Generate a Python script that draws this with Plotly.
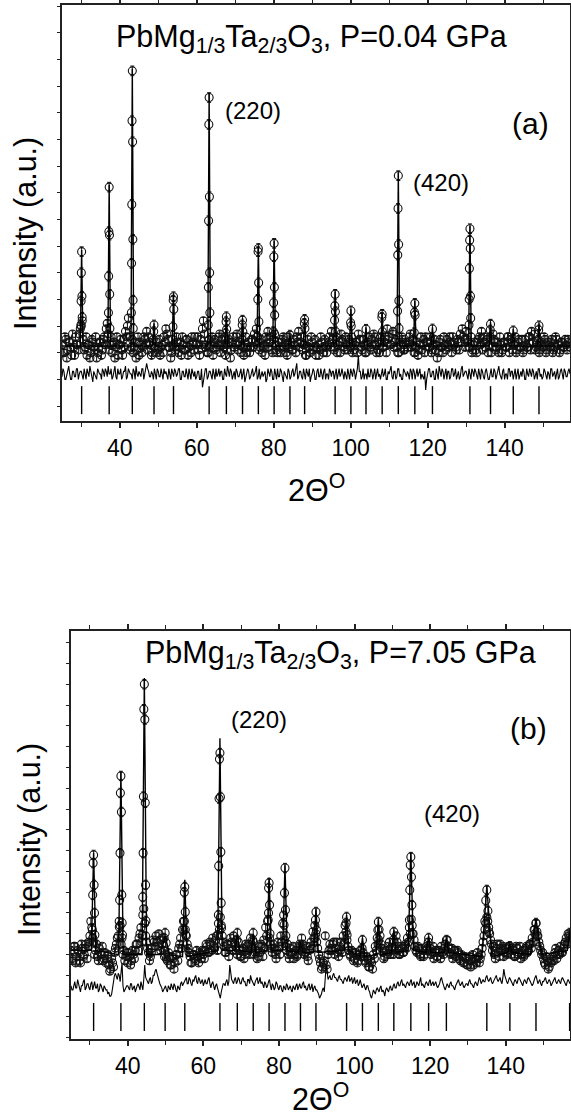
import plotly.graph_objects as go

W, H = 571, 1115
FONT = "Liberation Sans"

# observed background points: readings on 25.0, 25.5, ... (main) and 25.25, 25.75, ... (mid)
GRID_START = 25.0
GRID_STEP = 0.5

# ================= panel (a)  P = 0.04 GPa =================
obs_bg_a = [
    2.3, 2.0, 2.5, 2.1, 2.4, 1.9, 2.2, 2.6, 2.3, 2.7,
    3.0, 2.5, 2.2, 1.9, 2.3, 2.0, 2.4, 2.1, 1.8, 2.2,
    2.4, 2.1, 2.6, 2.9, 2.7, 2.3, 2.0, 2.4, 2.2, 1.9,
    2.3, 2.1, 2.5, 2.8, 3.0, 2.6, 2.2, 2.0, 2.4, 2.1,
    1.9, 2.3, 2.2, 2.5, 2.8, 2.6, 2.3, 2.0, 2.2, 2.4,
    2.1, 1.9, 2.3, 2.6, 2.9, 2.5, 2.2, 2.0, 2.3, 2.1,
    2.4, 2.2, 1.9, 2.3, 2.1, 2.5, 2.2, 2.0, 2.4, 2.6,
    2.3, 2.1, 2.5, 2.9, 2.7, 2.3, 2.0, 2.2, 2.6, 2.4,
    2.1, 2.3, 2.7, 2.5, 2.2, 1.9, 2.3, 2.4, 2.1, 2.6,
    2.3, 2.7, 2.4, 2.0, 2.2, 2.3, 2.0, 2.4, 2.2, 2.5,
    2.7, 2.9, 2.4, 2.2, 2.0, 2.3, 2.6, 2.8, 2.4, 2.1,
    2.5, 2.3, 2.0, 2.2, 2.4, 2.6, 2.3, 1.9, 2.2, 2.4,
    2.1, 2.3, 2.6, 2.8, 2.4, 2.1, 2.3, 1.9, 2.2, 2.0,
    2.4, 2.2, 1.9, 2.3, 2.1, 2.4, 2.0, 2.2, 2.3, 2.6,
    2.8, 2.5, 2.2, 2.0, 2.4, 2.7, 2.4, 2.1, 2.3, 2.5,
    2.2, 2.0, 2.3, 2.4, 2.7, 2.5, 2.1, 2.3, 2.0, 2.4,
    2.2, 2.5, 2.7, 2.3, 2.1, 2.0, 2.4, 2.2, 2.6, 2.9,
    2.6, 2.3, 2.8, 2.4, 2.2, 2.0, 2.3, 2.5, 2.1, 2.3,
    2.4, 2.7, 2.3, 2.0, 2.2, 1.9, 2.3, 2.1, 2.5, 2.6,
    2.4, 2.2, 2.0, 2.3, 2.1, 1.8, 2.4, 2.2, 2.0, 2.3,
    2.5, 2.2, 2.4, 2.6, 2.3, 2.1, 2.4, 2.7, 2.9, 2.5,
    2.8, 2.4, 2.2, 2.0, 2.3, 2.1, 2.4, 2.6, 2.8, 2.4,
    2.2, 2.5, 2.3, 2.0, 2.7, 2.4, 2.2, 2.0, 2.3, 2.1,
    2.4, 2.2, 2.6, 2.5, 2.1, 2.3, 2.0, 2.4, 2.2, 2.5,
    2.1, 2.3, 2.2, 2.6, 2.8, 2.4, 2.1, 2.3, 2.0, 2.4,
    2.2, 2.5, 2.1, 2.3, 2.4, 2.0, 2.2, 2.5, 2.3, 2.1,
    2.4, 2.2, 2.3, 2.5, 2.2,
]
obs_mid_a = [
    2.0, 2.6, 1.8, 2.4, 2.2, 2.7, 1.9, 2.3, 2.1, 2.9,
    3.2, 2.1, 2.6, 2.3, 1.8, 2.5, 2.2, 2.6, 2.0, 2.4,
    1.9, 2.5, 2.3, 3.1, 2.1, 2.6, 2.3, 1.8, 2.6, 2.3,
    2.5, 1.9, 2.2, 2.6, 3.3, 2.1, 2.5, 2.2, 1.8, 2.6,
    2.4, 2.0, 2.6, 2.3, 2.1, 2.4, 1.9, 2.5, 2.2, 2.0,
    2.5, 2.2, 2.0, 2.4, 2.7, 2.2, 1.8, 2.5, 2.2, 2.6,
    2.0, 2.4, 2.6, 2.1, 2.5, 1.9, 2.3, 2.6, 2.1, 2.3,
    2.6, 1.9, 2.3, 3.2, 2.2, 2.0, 2.5, 2.3, 1.9, 2.5,
    2.2, 2.6, 2.0, 2.3, 2.6, 2.1, 2.5, 1.8, 2.4, 2.2,
    2.6, 2.1, 2.3, 2.5, 1.9, 2.6, 2.2, 2.0, 2.5, 2.2,
    2.4, 2.6, 2.1, 2.5, 2.2, 1.9, 2.5, 2.2, 2.6, 2.0,
    2.7, 2.1, 2.4, 2.0, 2.5, 2.2, 2.0, 2.6, 2.3, 2.1,
    2.5, 2.0, 2.4, 2.2, 2.6, 2.3, 1.9, 2.5, 2.2, 2.6,
    2.1, 2.5, 2.2, 1.9, 2.6, 2.2, 2.5, 2.0, 2.4, 2.2,
    2.5, 2.1, 2.6, 2.3, 2.0, 2.5, 2.2, 2.6, 2.1, 2.4,
    2.6, 2.1, 2.4, 2.0, 2.5, 2.2, 2.5, 2.0, 2.3, 2.6,
    2.1, 2.3, 2.6, 2.0, 2.4, 2.6, 2.2, 2.4, 2.0, 2.5,
    2.3, 2.7, 2.2, 2.5, 2.0, 2.4, 2.6, 2.1, 2.4, 2.2,
    2.6, 2.2, 2.5, 2.0, 2.4, 2.1, 2.6, 2.3, 2.0, 2.4,
    2.2, 2.6, 2.1, 2.5, 2.3, 2.0, 2.5, 2.2, 2.6, 2.1,
    2.3, 2.6, 2.0, 2.4, 2.2, 2.5, 2.1, 2.4, 2.6, 2.2,
    2.5, 2.2, 2.6, 2.1, 2.4, 2.0, 2.5, 2.3, 2.1, 2.6,
    2.4, 2.0, 2.6, 2.2, 2.5, 2.1, 2.4, 2.6, 2.0, 2.4,
    2.2, 2.6, 2.0, 2.4, 2.3, 2.6, 2.1, 2.5, 2.2, 2.0,
    2.5, 2.2, 2.6, 2.1, 2.4, 2.7, 2.2, 2.5, 2.1, 2.3,
    2.6, 2.0, 2.4, 2.2, 2.5, 2.1, 2.6, 2.3, 2.0, 2.4,
    2.2, 2.5, 2.1, 2.4,
]
diff_a = [
    1.1, 1.3, 1.0, 1.4, 1.2, 1.0, 1.3, 1.1, 1.4, 1.2,
    1.3, 1.0, 1.2, 1.4, 1.1, 1.3, 0.9, 1.2, 1.0, 1.3,
    1.2, 1.4, 1.1, 1.3, 1.5, 1.2, 1.0, 1.3, 1.1, 1.4,
    1.2, 1.0, 1.3, 1.5, 1.1, 1.3, 1.2, 1.4, 1.0, 1.2,
    1.3, 1.1, 1.4, 1.2, 1.6, 1.3, 1.1, 1.2, 1.4, 1.0,
    1.3, 1.1, 1.2, 1.4, 1.3, 1.0, 1.2, 1.4, 1.1, 1.3,
    1.2, 1.4, 1.0, 1.3, 1.1, 1.2, 1.4, 1.0, 1.2, 1.3,
    1.1, 1.3, 1.0, 0.7, 1.2, 1.4, 1.1, 1.3, 1.0, 1.2,
    1.4, 1.2, 1.1, 1.3, 1.0, 1.2, 1.5, 1.1, 1.3, 1.2,
    1.0, 1.3, 1.1, 1.4, 1.2, 0.9, 1.2, 1.3, 1.1, 1.4,
    1.2, 1.5, 1.1, 1.0, 1.3, 1.2, 0.9, 1.4, 1.1, 1.3,
    1.0, 1.2, 1.4, 1.1, 1.3, 0.9, 1.2, 1.0, 1.3, 1.1,
    1.4, 1.2, 1.6, 1.1, 1.3, 1.0, 1.2, 1.4, 1.1, 0.9,
    1.2, 1.3, 1.0, 1.4, 1.1, 1.2, 1.3, 1.0, 1.2, 1.4,
    1.1, 1.3, 1.2, 1.0, 1.4, 1.2, 1.1, 1.3, 1.0, 1.2,
    1.4, 1.1, 1.3, 1.2, 1.9, 1.3, 1.1, 1.0, 1.2, 1.4,
    1.1, 1.3, 1.2, 1.0, 1.4, 1.2, 1.3, 1.1, 1.4, 1.0,
    1.2, 1.5, 1.0, 1.3, 1.1, 1.4, 1.2, 1.0, 1.3, 1.1,
    1.2, 1.4, 1.0, 1.3, 1.2, 1.1, 1.4, 1.2, 1.0, 0.6,
    1.2, 1.4, 1.1, 1.3, 1.0, 1.2, 1.5, 1.1, 1.3, 1.2,
    1.0, 1.3, 1.1, 1.4, 1.2, 1.0, 1.3, 1.1, 1.5, 1.2,
    1.3, 1.0, 1.2, 1.4, 1.1, 1.3, 1.0, 1.2, 1.4, 1.1,
    1.3, 1.2, 1.0, 1.4, 1.1, 1.3, 1.2, 1.5, 1.1, 1.3,
    1.0, 1.2, 1.4, 1.1, 1.3, 1.2, 1.0, 1.4, 1.2, 1.1,
    1.3, 1.0, 1.2, 1.4, 1.1, 1.3, 1.2, 1.0, 1.4, 1.2,
    1.1, 1.3, 1.0, 1.2, 1.4, 1.1, 1.3, 1.2, 1.0, 1.3,
    1.2, 1.4, 1.1, 1.3, 1.2,
]
diff_mid_a = [
    1.4, 1.0, 1.2, 1.5, 1.0, 1.3, 1.1, 1.4, 1.0, 1.3,
    1.1, 1.4, 1.0, 1.2, 1.5, 1.0, 1.3, 1.1, 1.4, 1.2,
    1.0, 1.3, 1.4, 1.1, 1.2, 1.4, 1.1, 1.5, 1.0, 1.2,
    1.4, 1.1, 1.3, 1.0, 1.4, 1.2, 1.0, 1.3, 1.5, 1.1,
    1.2, 1.4, 1.0, 1.3, 1.4, 1.1, 1.3, 1.0, 1.2, 1.4,
    1.1, 1.4, 1.0, 1.2, 1.1, 1.4, 1.0, 1.2, 1.4, 1.1,
    1.4, 1.0, 1.3, 1.1, 1.4, 1.0, 1.2, 1.4, 1.1, 1.0,
    1.3, 1.0, 1.4, 1.0, 1.4, 1.0, 1.3, 1.1, 1.4, 1.0,
    1.1, 1.4, 1.3, 1.0, 1.4, 1.1, 1.2, 1.4, 1.0, 1.3,
    1.4, 1.1, 1.3, 1.0, 1.4, 1.1, 1.4, 1.0, 1.3, 1.1,
    1.3, 1.0, 1.4, 1.2, 1.1, 1.3, 1.0, 1.2, 1.4, 1.0,
    1.4, 1.0, 1.1, 1.4, 1.0, 1.3, 1.1, 1.4, 1.0, 1.3,
    1.1, 1.4, 1.0, 1.3, 1.1, 1.4, 1.0, 1.2, 1.4, 1.1,
    1.4, 1.0, 1.3, 1.1, 1.4, 1.0, 1.4, 1.2, 1.0, 1.3,
    1.3, 1.0, 1.4, 1.2, 1.1, 1.4, 1.0, 1.1, 1.4, 1.0,
    1.2, 1.4, 1.0, 1.4, 1.3, 1.0, 1.4, 1.2, 1.0, 1.1,
    1.4, 1.0, 1.4, 1.3, 1.1, 1.0, 1.4, 1.2, 1.0, 1.3,
    1.4, 1.1, 1.3, 1.0, 1.4, 1.1, 1.0, 1.4, 1.2, 1.3,
    1.0, 1.3, 1.4, 1.0, 1.4, 1.3, 1.0, 1.1, 1.3, 1.0,
    1.4, 1.1, 1.3, 1.0, 1.4, 1.0, 1.3, 1.4, 1.0, 1.4,
    1.3, 1.0, 1.4, 1.1, 1.4, 1.2, 1.0, 1.4, 1.1, 1.3,
    1.1, 1.4, 1.0, 1.3, 1.4, 1.1, 1.4, 1.0, 1.3, 1.0,
    1.4, 1.0, 1.3, 1.1, 1.4, 1.0, 1.4, 1.2, 1.0, 1.4,
    1.2, 1.0, 1.4, 1.3, 1.0, 1.4, 1.2, 1.0, 1.3, 1.4,
    1.0, 1.4, 1.1, 1.2, 1.4, 1.0, 1.3, 1.4, 1.1, 1.0,
    1.4, 1.1, 1.3, 1.0, 1.4, 1.2, 1.0, 1.4, 1.1, 1.4,
    1.0, 1.3, 1.1, 1.4,
]
bragg_a = [30.10, 37.26, 43.27, 48.91, 53.97, 63.23, 67.71, 71.91, 76.02, 80.12,
           84.23, 88.04, 95.97, 100.07, 103.99, 108.19, 112.39, 116.68, 121.26,
           131.00, 136.35, 142.26, 148.94]
peak_apex_a = [5.85, 8.3, 12.65, 3.1, 4.2, 11.75, 3.4, 3.3, 6.0, 6.2,
               2.7, 3.3, 4.3, 3.65, 2.95, 3.5, 8.75, 3.95, 2.95,
               6.75, 3.15, 2.9, 3.1]
peak_base_a = [2.25] * 23
peak_hw_a = [0.35] * 23
peak_obs_a = [
    [5.79, 5.0, 4.12, 3.94, 3.33, 3.04],
    [8.21, 6.54, 6.41, 4.87, 4.19, 3.5, 2.91],
    [12.57, 10.7, 9.91, 7.56, 6.25, 5.35, 3.97, 3.5, 2.91],
    [3.04, 2.79],
    [4.1, 3.97, 3.63, 2.97],
    [11.57, 10.56, 7.85, 6.95, 5.0, 4.45, 3.5, 3.04],
    [3.35, 3.16, 2.88, 2.73],
    [3.22, 3.04, 2.79],
    [5.91, 5.79, 4.62, 4.0, 3.16, 2.6],
    [6.1, 5.6, 4.45, 3.87, 3.41, 2.79],
    [2.66],
    [3.25, 3.1, 2.91],
    [4.19, 3.75, 3.54, 3.22, 2.79],
    [3.57, 3.12, 3.0],
    [2.88],
    [3.44, 3.33, 2.79],
    [8.64, 7.41, 6.06, 5.66, 3.95, 3.56, 2.91],
    [3.85, 3.51, 3.41, 2.75],
    [2.89],
    [6.65, 6.22, 5.91, 5.16, 4.12, 4.0, 3.29, 3.04],
    [3.07, 2.85],
    [2.82],
    [3.01, 2.85],
]
bragg_level_a = 0.22

# ================= panel (b)  P = 7.05 GPa =================
obs_bg_b = [
    3.2, 2.7, 3.4, 2.9, 3.1, 2.6, 3.3, 3.0, 3.5, 3.4,
    3.9, 4.3, 3.6, 3.2, 2.9, 3.3, 3.0, 2.7, 3.1, 2.8,
    2.5, 2.3, 2.6, 3.1, 3.5, 3.9, 4.4, 3.8, 3.2, 2.9,
    2.6, 2.9, 2.7, 3.0, 3.2, 3.5, 3.8, 4.3, 4.9, 4.5,
    3.6, 3.1, 2.9, 3.3, 3.6, 3.9, 3.4, 3.7, 3.5, 3.2,
    3.0, 2.7, 2.9, 2.5, 2.8, 2.6, 3.0, 3.3, 3.8, 4.2,
    4.6, 3.9, 3.3, 2.9, 2.6, 3.0, 2.7, 2.9, 3.1, 2.8,
    3.0, 3.2, 3.4, 3.1, 3.5, 3.8, 3.3, 3.9, 4.5, 4.8,
    3.9, 3.4, 3.1, 3.5, 3.3, 3.6, 3.9, 3.4, 3.0, 3.2,
    2.9, 3.3, 3.0, 3.4, 3.5, 3.8, 3.3, 3.0, 3.2, 2.9,
    3.1, 3.4, 3.7, 4.3, 4.6, 3.8, 3.3, 3.5, 3.0, 3.2,
    3.4, 3.9, 4.5, 3.7, 3.2, 3.0, 3.3, 3.1, 2.8, 3.2,
    3.0, 3.5, 3.8, 3.3, 3.1, 2.9, 3.2, 3.6, 4.1, 4.4,
    3.6, 3.0, 2.6, 2.4, 2.7, 2.5, 3.0, 3.5, 3.2, 3.6,
    3.3, 3.1, 3.4, 3.6, 3.9, 4.4, 3.7, 3.2, 2.9, 3.1,
    2.8, 3.0, 2.7, 3.2, 3.3, 2.9, 2.6, 2.8, 2.4, 2.6,
    3.0, 3.4, 3.8, 4.2, 3.5, 3.1, 2.9, 3.2, 3.4, 3.0,
    3.3, 3.6, 3.9, 3.2, 3.0, 3.3, 3.1, 3.5, 3.8, 4.3,
    4.7, 4.0, 3.4, 3.1, 3.3, 2.9, 3.2, 3.0, 3.4, 3.6,
    3.3, 3.1, 2.8, 3.2, 2.9, 3.1, 3.4, 3.0, 3.5, 3.7,
    3.3, 3.0, 2.8, 3.2, 2.9, 3.1, 2.7, 2.9, 2.6, 2.8,
    2.5, 2.9, 2.7, 2.5, 2.8, 3.1, 2.6, 3.0, 3.6, 4.2,
    4.8, 4.3, 3.7, 3.2, 3.0, 3.3, 3.1, 3.5, 3.2, 2.9,
    3.3, 3.1, 3.4, 3.0, 3.2, 2.9, 3.3, 3.1, 2.8, 3.2,
    3.0, 3.4, 3.2, 3.5, 3.8, 4.2, 4.5, 3.9, 3.4, 3.0,
    2.8, 2.5, 2.7, 2.4, 2.6, 2.9, 3.1, 2.8, 3.2, 3.4,
    3.1, 3.5, 3.8, 4.0, 3.6,
]
obs_mid_b = [
    2.8, 3.4, 2.6, 3.2, 2.7, 3.5, 2.9, 3.3, 2.8, 3.6,
    4.6, 3.8, 3.0, 3.5, 2.7, 3.1, 3.4, 2.8, 2.6, 3.0,
    2.2, 2.8, 2.4, 3.3, 3.8, 4.6, 3.5, 3.0, 2.7, 3.1,
    3.1, 2.5, 3.2, 2.8, 3.5, 3.2, 4.0, 3.6, 5.2, 3.9,
    3.3, 2.7, 3.1, 3.7, 3.4, 3.6, 4.0, 3.2, 3.8, 2.9,
    2.8, 3.1, 2.5, 2.9, 2.3, 3.0, 2.7, 3.5, 3.3, 4.6,
    4.2, 3.5, 3.1, 2.6, 3.0, 2.8, 3.2, 2.6, 3.0, 3.2,
    2.8, 3.5, 3.1, 3.6, 3.2, 3.4, 3.7, 3.2, 4.2, 4.4,
    3.6, 3.1, 3.5, 2.9, 3.8, 3.2, 3.5, 3.2, 3.6, 2.9,
    3.2, 2.8, 3.5, 3.2, 3.0, 3.4, 3.6, 3.1, 2.8, 3.4,
    3.5, 2.9, 3.3, 3.9, 5.0, 3.5, 3.1, 3.3, 2.8, 3.6,
    3.0, 3.6, 4.9, 3.4, 3.5, 2.8, 3.0, 3.4, 3.0, 2.9,
    3.4, 3.2, 3.5, 3.0, 3.4, 2.7, 3.4, 3.3, 3.8, 4.0,
    3.3, 2.8, 2.3, 2.6, 3.9, 2.3, 3.2, 3.3, 3.5, 3.0,
    3.6, 2.9, 3.2, 3.1, 3.5, 4.1, 3.4, 3.0, 3.2, 2.7,
    3.1, 2.6, 3.0, 2.9, 3.1, 2.7, 2.9, 2.4, 2.7, 2.3,
    2.8, 3.2, 3.5, 3.9, 3.3, 2.8, 3.2, 3.0, 3.6, 3.2,
    3.0, 3.4, 3.6, 3.0, 3.4, 3.1, 3.4, 3.3, 3.6, 4.0,
    4.4, 3.7, 3.2, 3.4, 3.0, 3.3, 2.9, 3.2, 3.3, 3.2,
    3.0, 3.4, 3.1, 2.9, 3.2, 2.8, 3.1, 3.3, 3.2, 3.4,
    3.1, 3.3, 3.0, 2.9, 3.2, 2.8, 3.0, 2.6, 2.9, 2.5,
    2.7, 2.4, 3.0, 2.8, 2.6, 2.9, 2.8, 3.3, 3.9, 4.5,
    4.6, 4.0, 3.5, 3.4, 2.8, 3.5, 2.9, 3.3, 3.4, 3.1,
    3.0, 3.4, 3.2, 3.3, 2.9, 3.4, 3.0, 3.4, 3.0, 2.9,
    3.3, 3.1, 3.5, 3.3, 3.6, 4.0, 4.1, 3.6, 3.2, 3.1,
    2.6, 2.9, 2.3, 2.8, 2.7, 2.7, 3.3, 3.0, 3.0, 3.1,
    3.3, 3.6, 3.5, 3.9,
]
diff_b = [
    1.5, 1.3, 1.7, 1.4, 1.6, 1.2, 1.5, 1.8, 1.4, 1.6,
    1.3, 1.7, 1.5, 1.4, 1.6, 1.3, 1.5, 1.2, 1.4, 1.3,
    1.2, 1.0, 1.4, 2.0, 1.9, 2.1, 1.7, 2.6, 1.2, 1.4,
    1.5, 1.3, 1.6, 1.4, 1.2, 1.5, 1.4, 1.7, 1.3, 2.5,
    1.8, 1.6, 1.9, 1.7, 2.0, 2.3, 1.9, 1.6, 1.4, 1.3,
    1.5, 1.2, 1.4, 1.6, 1.3, 1.5, 1.2, 1.4, 1.6, 1.5,
    1.7, 1.9, 1.6, 1.8, 1.5, 1.7, 2.0, 1.6, 1.8, 1.7,
    1.5, 1.8, 1.6, 1.9, 1.4, 1.7, 1.3, 1.6, 1.2, 0.9,
    1.4, 1.6, 1.7, 1.5, 2.5, 1.8, 1.6, 1.9, 1.7, 1.8,
    1.6, 1.9, 1.7, 1.5, 1.8, 2.0, 1.7, 1.5, 1.8, 1.6,
    1.9, 1.7, 1.4, 1.6, 1.5, 1.8, 1.3, 1.5, 1.4, 1.6,
    1.3, 1.5, 1.2, 1.4, 1.6, 1.3, 1.5, 1.2, 1.4, 1.5,
    1.3, 1.6, 1.4, 1.7, 1.5, 1.3, 1.6, 1.4, 1.2, 1.5,
    1.3, 1.1, 1.0, 1.3, 1.2, 2.5, 1.8, 2.0, 1.8, 2.1,
    1.9, 1.7, 2.0, 1.8, 1.6, 1.9, 1.7, 2.0, 1.8, 1.6,
    1.9, 1.7, 1.5, 1.8, 1.4, 1.6, 1.3, 1.5, 1.2, 0.9,
    1.3, 1.1, 1.4, 1.2, 1.5, 1.3, 1.0, 1.4, 1.2, 1.5,
    1.3, 1.6, 1.4, 1.7, 1.5, 1.8, 1.6, 1.4, 1.7, 1.5,
    1.8, 1.6, 1.4, 1.7, 1.5, 1.9, 1.6, 1.4, 1.7, 1.5,
    1.8, 1.6, 1.5, 1.7, 1.4, 1.6, 1.9, 1.5, 1.3, 1.6,
    1.4, 1.7, 1.5, 1.3, 1.6, 1.8, 1.5, 1.7, 1.4, 1.6,
    1.5, 1.8, 1.6, 1.4, 1.7, 1.5, 1.9, 1.6, 1.8, 1.7,
    2.0, 1.7, 1.9, 1.6, 1.8, 2.0, 1.7, 1.9, 1.6, 2.3,
    1.8, 1.6, 1.9, 1.7, 1.5, 1.8, 1.6, 1.9, 1.7, 1.5,
    1.8, 1.6, 1.9, 1.7, 1.5, 1.8, 2.0, 1.6, 1.8, 1.5,
    1.7, 1.9, 1.6, 1.8, 1.5, 1.7, 1.9, 1.6, 1.8, 1.6,
    1.9, 1.7, 1.5, 1.8, 1.6,
]
diff_mid_b = [
    1.3, 1.6, 1.4, 1.8, 1.3, 1.5, 1.7, 1.3, 1.6, 1.4,
    1.6, 1.3, 1.7, 1.4, 1.2, 1.6, 1.3, 1.5, 1.3, 1.1,
    1.0, 1.1, 1.8, 2.1, 1.8, 2.0, 2.2, 1.5, 1.3, 1.5,
    1.4, 1.6, 1.3, 1.5, 1.4, 1.6, 1.3, 1.5, 1.8, 1.9,
    1.7, 1.8, 1.6, 2.0, 2.2, 2.1, 1.7, 1.5, 1.2, 1.4,
    1.3, 1.5, 1.3, 1.4, 1.6, 1.3, 1.5, 1.3, 1.7, 1.6,
    1.8, 1.6, 1.9, 1.6, 1.8, 1.9, 1.7, 1.9, 1.6, 1.8,
    1.7, 1.6, 1.8, 1.6, 1.6, 1.5, 1.5, 1.4, 1.1, 1.2,
    1.6, 1.5, 1.8, 1.7, 2.0, 1.7, 1.8, 1.6, 1.9, 1.6,
    1.8, 1.7, 1.5, 1.8, 1.6, 1.8, 1.6, 1.7, 1.9, 1.7,
    1.6, 1.5, 1.7, 1.4, 1.7, 1.5, 1.6, 1.3, 1.7, 1.4,
    1.5, 1.3, 1.5, 1.3, 1.5, 1.4, 1.3, 1.5, 1.3, 1.6,
    1.5, 1.4, 1.6, 1.4, 1.3, 1.5, 1.3, 1.6, 1.4, 1.3,
    1.2, 0.9, 1.1, 1.4, 1.9, 2.2, 1.9, 1.8, 2.0, 1.9,
    1.8, 1.9, 1.8, 1.7, 1.8, 1.8, 1.9, 1.7, 1.9, 1.8,
    1.6, 1.8, 1.6, 1.6, 1.5, 1.4, 1.5, 1.3, 1.0, 1.1,
    1.2, 1.3, 1.3, 1.4, 1.2, 1.2, 1.3, 1.3, 1.4, 1.3,
    1.5, 1.4, 1.6, 1.5, 1.7, 1.5, 1.5, 1.6, 1.6, 1.7,
    1.5, 1.7, 1.5, 1.6, 1.7, 1.5, 1.5, 1.6, 1.6, 1.7,
    1.5, 1.7, 1.6, 1.5, 1.5, 1.8, 1.7, 1.4, 1.5, 1.5,
    1.6, 1.5, 1.4, 1.5, 1.7, 1.6, 1.6, 1.5, 1.5, 1.6,
    1.7, 1.6, 1.5, 1.6, 1.6, 1.7, 1.8, 1.7, 1.7, 1.9,
    1.8, 1.8, 1.7, 1.7, 1.9, 1.8, 1.8, 1.7, 1.9, 2.0,
    1.7, 1.8, 1.8, 1.6, 1.7, 1.7, 1.8, 1.8, 1.6, 1.7,
    1.7, 1.8, 1.8, 1.6, 1.6, 1.9, 1.8, 1.7, 1.6, 1.7,
    1.8, 1.7, 1.7, 1.7, 1.6, 1.8, 1.7, 1.7, 1.7, 1.8,
    1.8, 1.6, 1.7, 1.7,
]
bragg_b = [30.98, 38.2, 44.4, 49.9, 55.1, 64.4, 69.0, 73.2, 77.4, 81.6,
           85.7, 89.8, 97.9, 102.1, 106.3, 110.4, 114.9, 119.6, 124.3,
           135.0, 141.1, 148.0, 156.9]
peak_apex_b = [7.9, 11.8, 16.3, 3.9, 6.6, 13.4, 4.0, 4.0, 6.7, 7.3,
               3.6, 5.2, 4.9, 3.8, 4.7, 4.2, 7.9, 3.9, 3.8,
               6.3, 3.5, 4.7, 4.1]
peak_base_b = [3.2, 3.0, 3.0, 3.0, 2.9, 3.2, 3.2, 3.1, 3.2, 3.2,
               3.1, 3.1, 3.2, 2.9, 3.0, 3.1, 3.2, 3.1, 3.1,
               2.9, 3.1, 3.0, 3.2]
peak_hw_b = [0.6, 0.6, 0.6, 1.2, 0.6, 0.6, 0.6, 0.6, 0.6, 0.6,
             0.6, 0.6, 0.6, 0.6, 0.6, 0.6, 0.7, 0.6, 0.6,
             1.3, 0.6, 1.5, 0.6]
peak_obs_b = [
    [7.79, 7.4, 6.35, 5.87, 5.0, 4.18, 3.94],
    [11.59, 10.77, 9.86, 7.88, 5.87, 5.63, 4.52, 4.33, 3.94],
    [16.0, 14.8, 14.3, 10.6, 10.3, 7.88, 6.35, 5.77, 4.62, 3.94],
    [4.04, 3.8, 3.56],
    [6.25, 6.0, 5.05, 4.18, 3.94],
    [12.69, 12.4, 10.58, 10.5, 7.93, 7.26, 5.48, 4.9, 4.28, 3.94],
    [4.04, 3.7],
    [4.04, 3.7],
    [6.44, 6.2, 5.38, 4.66, 4.0],
    [7.16, 5.96, 5.14, 4.42, 3.9],
    [3.37],
    [5.05, 4.66, 4.18, 3.8],
    [4.81, 4.52, 3.94],
    [3.7],
    [4.57, 4.18, 3.7],
    [4.09, 3.7],
    [7.69, 7.31, 6.73, 6.11, 5.38, 4.66, 4.0],
    [3.8],
    [3.7],
    [6.11, 5.6, 5.1, 4.6, 4.1],
    [3.4],
    [4.52, 4.18, 3.9],
    [4.04],
]
bragg_level_b = 0.0

# ---- positions of flank circles relative to a peak (fraction of half-width) ----
FLANK = [0.0, -0.22, 0.22, -0.4, 0.4, -0.55, 0.55, -0.7, 0.7, -0.85]

AX_A = dict(x=(62, 570), y=(5, 421), yr=(-0.5625, 15.04))
AX_B = dict(x=(71, 570), y=(631, 1039), yr=(-1.06, 18.56))
XR = (25.0, 157.0)


def px2paper_x(px):
    return px / W


def px2paper_y(py):
    return 1 - py / H


def merge(main, mid):
    """Interleave readings at the .0/.5 positions with those at .25/.75."""
    xs, ys = [], []
    for i, v in enumerate(main):
        xs.append(round(GRID_START + GRID_STEP * i, 2))
        ys.append(v)
        if i < len(mid):
            xs.append(round(GRID_START + GRID_STEP * i + GRID_STEP / 2, 2))
            ys.append(mid[i])
    return xs, ys


fig = go.Figure()


def add_panel(xa, ya, obs_bg, obs_mid, diff, diff_mid, bragg, apex, base, hw,
              pobs, blevel, err_bg):
    gx, gy = merge(obs_bg, obs_mid)
    dx, dy = merge(diff, diff_mid)
    ox, oy, oe = list(gx), list(gy), [err_bg] * len(gx)
    for p, h, vals in zip(bragg, hw, pobs):
        for k, v in enumerate(vals):
            ox.append(p + FLANK[k % len(FLANK)] * h)
            oy.append(v)
            oe.append(err_bg * 1.5)
    # calculated profile: narrow triangle per reflection on the background level
    cx, cy = [XR[0]], [base[0]]
    for p, a, b, h in zip(bragg, apex, base, hw):
        cx += [p - h, p, p + h]
        cy += [b, a, b]
    cx.append(XR[1])
    cy.append(base[-1])

    fig.add_trace(go.Scatter(
        x=ox, y=oy, mode="markers", xaxis=xa, yaxis=ya, showlegend=False,
        marker=dict(symbol="circle-open", size=8, color="#111",
                    line=dict(width=1.1, color="#111")),
        error_y=dict(type="data", array=oe, visible=True, thickness=1.0,
                     width=2, color="#111")))
    fig.add_trace(go.Scatter(
        x=cx, y=cy, mode="lines", xaxis=xa, yaxis=ya, showlegend=False,
        line=dict(color="black", width=1.4)))
    fig.add_trace(go.Scatter(
        x=dx, y=dy, mode="lines", xaxis=xa, yaxis=ya, showlegend=False,
        line=dict(color="black", width=1.1)))
    fig.add_trace(go.Scatter(
        x=bragg, y=[blevel] * len(bragg), mode="markers", xaxis=xa, yaxis=ya,
        showlegend=False,
        marker=dict(symbol="line-ns", size=20, color="black",
                    line=dict(width=1.4, color="black"))))


add_panel("x", "y", obs_bg_a, obs_mid_a, diff_a, diff_mid_a, bragg_a,
          peak_apex_a, peak_base_a, peak_hw_a, peak_obs_a, bragg_level_a, 0.12)
add_panel("x2", "y2", obs_bg_b, obs_mid_b, diff_b, diff_mid_b, bragg_b,
          peak_apex_b, peak_base_b, peak_hw_b, peak_obs_b, bragg_level_b, 0.15)

tickfont = dict(family=FONT, size=23, color="black")


def xaxis_cfg(ax, anchor):
    return dict(
        domain=[px2paper_x(ax["x"][0]), px2paper_x(ax["x"][1])],
        range=list(XR), anchor=anchor, tick0=0, dtick=20, automargin=False,
        ticks="outside", ticklen=5, tickwidth=1.5, tickcolor="#222",
        showline=True, linewidth=2, linecolor="#222", mirror="ticks",
        showgrid=False, zeroline=False, tickfont=tickfont,
        minor=dict(dtick=10, ticks="outside", ticklen=4, tickwidth=1.3,
                   tickcolor="#222", showgrid=False))


def yaxis_cfg(ax, anchor):
    return dict(
        domain=[px2paper_y(ax["y"][1]), px2paper_y(ax["y"][0])],
        range=list(ax["yr"]), anchor=anchor, tick0=0, dtick=1, automargin=False,
        ticks="outside", ticklen=3, tickwidth=1.2, tickcolor="#222",
        showticklabels=False,
        showline=True, linewidth=2, linecolor="#222", mirror="ticks",
        showgrid=False, zeroline=False)


fig.update_layout(
    width=W, height=H,
    margin=dict(l=0, r=0, t=0, b=0, pad=0, autoexpand=False),
    paper_bgcolor="white", plot_bgcolor="white",
    font=dict(family=FONT, color="black"),
    xaxis=xaxis_cfg(AX_A, "y"), yaxis=yaxis_cfg(AX_A, "x"),
    xaxis2=xaxis_cfg(AX_B, "y2"), yaxis2=yaxis_cfg(AX_B, "x2"),
)

big = dict(family=FONT, size=30.5, color="black")
lab = dict(family=FONT, size=30, color="black")
mid = dict(family=FONT, size=24, color="black")
ann = []


def paper_text(text, px, py, font, angle=0, xanchor="center"):
    ann.append(dict(text=text, x=px2paper_x(px), y=px2paper_y(py), xref="paper",
                    yref="paper", showarrow=False, font=font, textangle=angle,
                    xanchor=xanchor, yanchor="middle"))


def data_text(text, x, y, xa, ya, font):
    ann.append(dict(text=text, x=x, y=y, xref=xa, yref=ya, showarrow=False,
                    font=font, xanchor="left", yanchor="middle"))


paper_text("PbMg<sub>1/3</sub>Ta<sub>2/3</sub>O<sub>3</sub>, P=0.04 GPa", 311, 38, big)
paper_text("PbMg<sub>1/3</sub>Ta<sub>2/3</sub>O<sub>3</sub>, P=7.05 GPa", 340, 654, big)
paper_text("Intensity (a.u.)", 26, 234, big, angle=-90)
paper_text("Intensity (a.u.)", 29, 840, big, angle=-90)
paper_text("2Θ<sup>O</sup>", 316, 488, big)
paper_text("2Θ<sup>O</sup>", 320, 1097, big)

data_text("(220)", 66.9, 11.1, "x", "y", mid)
data_text("(420)", 115.6, 8.4, "x", "y", mid)
data_text("(a)", 141.3, 10.6, "x", "y", lab)
data_text("(220)", 66.8, 14.3, "x2", "y2", mid)
data_text("(420)", 117.9, 9.76, "x2", "y2", mid)
data_text("(b)", 140.6, 13.85, "x2", "y2", lab)

fig.update_layout(annotations=ann)
fig.write_html(
    "out.html",
    config={"displayModeBar": False},
    post_script="document.body.style.margin='0px';document.body.style.padding='0px';",
)
